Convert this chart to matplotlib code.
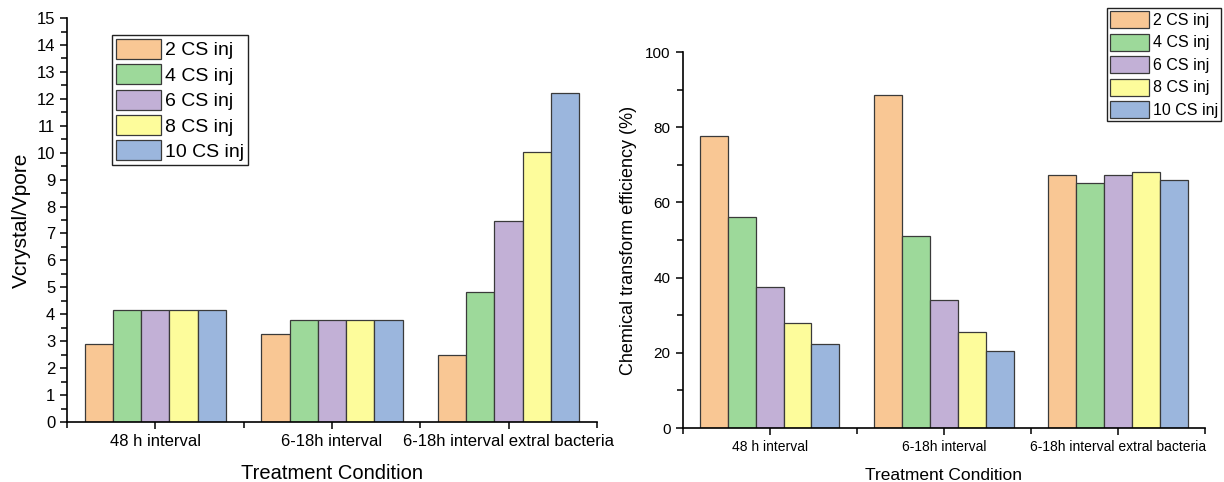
import numpy as np
import matplotlib
matplotlib.use("Agg")
import matplotlib.pyplot as plt
from matplotlib.ticker import MultipleLocator, FixedLocator

plt.rcParams['font.family'] = ['Liberation Sans', 'DejaVu Sans']

conditions = ["48 h interval", "6-18h interval", "6-18h interval extral bacteria"]
series = ["2 CS inj", "4 CS inj", "6 CS inj", "8 CS inj", "10 CS inj"]
colors = ["#F9C794", "#9DD99A", "#C2B0D6", "#FDFC9B", "#9BB6DD"]

# Vcrystal/Vpore, one list per injection count (by condition)
ratio_2 = [2.88, 3.27, 2.48]
ratio_4 = [4.15, 3.78, 4.82]
ratio_6 = [4.15, 3.78, 7.45]
ratio_8 = [4.15, 3.78, 10.02]
ratio_10 = [4.15, 3.78, 12.2]

# chemical transform efficiency (%)
eff_2 = [77.8, 88.6, 67.3]
eff_4 = [56.1, 51.1, 65.1]
eff_6 = [37.4, 34.1, 67.2]
eff_8 = [28.0, 25.5, 68.0]
eff_10 = [22.4, 20.4, 66.1]

ratios = [ratio_2, ratio_4, ratio_6, ratio_8, ratio_10]
effs = [eff_2, eff_4, eff_6, eff_8, eff_10]

fig = plt.figure(figsize=(12.24, 4.82), dpi=100)
ax1 = fig.add_axes([0.0547, 0.1245, 0.433, 0.838])
ax2 = fig.add_axes([0.5576, 0.112, 0.427, 0.78])

x = np.arange(len(conditions))
w = 0.16


def bars(ax, data):
    for i, vals in enumerate(data):
        ax.bar(x + (i - 2) * w, vals, w, color=colors[i], edgecolor="#3a3a3a",
               linewidth=0.9, label=series[i])
    ax.set_xlim(-0.5, 2.5)
    ax.set_xticks(x)
    ax.xaxis.set_minor_locator(FixedLocator([-0.5, 0.5, 1.5, 2.5]))
    for s in ["top", "right"]:
        ax.spines[s].set_visible(False)
    ax.spines["left"].set_linewidth(1.2)
    ax.spines["bottom"].set_linewidth(1.2)
    ax.tick_params(which="major", direction="out", length=5, width=1.1)
    ax.tick_params(which="minor", direction="out", length=4, width=1.1)


bars(ax1, ratios)
ax1.set_ylim(0, 15)
ax1.yaxis.set_major_locator(MultipleLocator(1))
ax1.yaxis.set_minor_locator(MultipleLocator(0.5))
ax1.set_xticklabels(conditions, fontsize=12)
ax1.tick_params(axis="y", labelsize=12)
ax1.set_ylabel("Vcrystal/Vpore", fontsize=15, labelpad=4)
ax1.set_xlabel("Treatment Condition", fontsize=14.5, labelpad=11)
leg1 = fig.legend(*ax1.get_legend_handles_labels(), loc="upper left",
                  bbox_to_anchor=(112 / 1224, 1 - 35 / 482), fontsize=14,
                  fancybox=False, edgecolor="#222222", framealpha=1,
                  handlelength=2.3, handleheight=1.2, labelspacing=0.25,
                  handletextpad=0.25, borderpad=0.2, borderaxespad=0)
leg1.get_frame().set_linewidth(1.0)

bars(ax2, effs)
ax2.set_ylim(0, 100)
ax2.yaxis.set_major_locator(MultipleLocator(20))
ax2.yaxis.set_minor_locator(MultipleLocator(10))
ax2.set_xticklabels(conditions, fontsize=10)
ax2.tick_params(axis="y", labelsize=11)
ax2.set_ylabel("Chemical transform efficiency (%)", fontsize=13, labelpad=6)
ax2.set_xlabel("Treatment Condition", fontsize=12.5, labelpad=10)
leg2 = fig.legend(*ax2.get_legend_handles_labels(), loc="upper left",
                  bbox_to_anchor=(1107 / 1224, 1 - 8 / 482), fontsize=11.5,
                  fancybox=False, edgecolor="#222222", framealpha=1,
                  handlelength=2.4, handleheight=1.25, labelspacing=0.35,
                  handletextpad=0.25, borderpad=0.2, borderaxespad=0)
leg2.get_frame().set_linewidth(1.0)

fig.savefig("out.png", dpi=100)
